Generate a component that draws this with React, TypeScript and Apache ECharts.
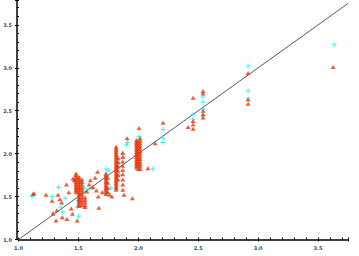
import React, { useEffect, useRef } from "react";
import * as echarts from "echarts";

const X_MIN = 1.0;
const X_MAX = 3.75;
const Y_MIN = 1.0;
const Y_MAX = 3.79;
const TICK_INTERVAL = 0.5;

// identity reference line
const diagonal: [number, number][] = [
  [1.0, 1.0],
  [3.75, 3.75],
];

// red triangles, grouped in vertical clusters plus scattered points
const redCol148 = [1.77, 1.75, 1.73, 1.71, 1.69, 1.67, 1.65, 1.63, 1.61, 1.59, 1.57, 1.55];
const redCol1505 = [1.73, 1.71, 1.69, 1.67, 1.65, 1.63, 1.61, 1.59, 1.57, 1.55, 1.53, 1.51, 1.49, 1.47, 1.45, 1.43, 1.41, 1.39];
const redCol153 = [1.7, 1.67, 1.64, 1.61, 1.58, 1.55, 1.52, 1.49, 1.46, 1.43, 1.4];
const redCol1555 = [1.49, 1.46, 1.43, 1.4, 1.38];
const redCol173 = [1.77, 1.75, 1.73, 1.71, 1.69, 1.67, 1.65, 1.63, 1.61, 1.59, 1.57, 1.55, 1.53];
const redCol1745 = [1.72, 1.66, 1.6, 1.55];
const redCol1815 = [2.08, 2.06, 2.04, 2.02, 2.0, 1.98, 1.96, 1.94, 1.92, 1.9, 1.88, 1.86, 1.84, 1.82, 1.8, 1.78, 1.76, 1.74, 1.72, 1.7, 1.68, 1.66, 1.64, 1.62, 1.6, 1.58];
const redCol183 = [1.95, 1.9, 1.85, 1.8, 1.75, 1.7];
const redCol187 = [2.01, 1.96, 1.91, 1.86, 1.81, 1.76, 1.7, 1.64, 1.58];
const redCol1985 = [2.16, 2.14, 2.12, 2.1, 2.08, 2.06, 2.04, 2.02, 2.0, 1.98, 1.96, 1.94, 1.92, 1.9, 1.88, 1.86, 1.84];
const redCol200 = [2.14, 2.1, 2.06, 2.02, 1.98, 1.94, 1.9, 1.86, 1.82];
const redCol2015 = [2.18, 2.15, 2.12, 2.09, 2.06, 2.03, 2.0, 1.97, 1.94, 1.91, 1.88, 1.85, 1.82];

const redColumns: [number, number[]][] = [
  [1.48, redCol148],
  [1.505, redCol1505],
  [1.53, redCol153],
  [1.555, redCol1555],
  [1.73, redCol173],
  [1.745, redCol1745],
  [1.815, redCol1815],
  [1.83, redCol183],
  [1.87, redCol187],
  [1.985, redCol1985],
  [2.0, redCol200],
  [2.015, redCol2015],
];

const redScatter: [number, number][] = [
  [1.121, 1.53], [1.129, 1.54], [1.23, 1.52], [1.28, 1.45], [1.288, 1.3],
  [1.313, 1.22], [1.32, 1.34], [1.33, 1.52], [1.345, 1.47], [1.36, 1.43],
  [1.365, 1.26], [1.4, 1.64], [1.405, 1.24], [1.42, 1.55], [1.44, 1.36],
  [1.45, 1.3], [1.455, 1.71], [1.465, 1.69], [1.49, 1.22], [1.57, 1.56],
  [1.59, 1.64], [1.6, 1.69], [1.62, 1.61], [1.64, 1.72], [1.65, 1.57],
  [1.66, 1.79], [1.665, 1.5], [1.67, 1.37], [1.7, 1.55], [1.76, 1.52],
  [1.78, 1.5], [1.88, 1.52], [1.906, 2.18], [1.95, 1.48], [2.08, 1.83],
  [2.14, 2.12], [2.006, 2.3], [2.206, 2.36], [2.415, 2.31], [2.457, 2.29],
  [2.457, 2.65], [2.457, 2.38], [2.457, 2.34], [2.54, 2.73], [2.54, 2.7],
  [2.54, 2.5], [2.54, 2.46], [2.54, 2.42], [2.916, 2.94], [2.916, 2.63],
  [2.916, 2.58], [3.626, 3.01],
];

// cyan plus markers
const cyanPoints: [number, number][] = [
  [1.113, 1.5], [1.28, 1.5], [1.29, 1.31], [1.335, 1.61], [1.355, 1.38],
  [1.37, 1.32], [1.39, 1.48], [1.49, 1.38], [1.5, 1.27], [1.52, 1.66],
  [1.5, 1.45], [1.55, 1.6], [1.58, 1.58], [1.62, 1.6], [1.73, 1.82],
  [1.75, 1.8], [1.77, 1.6], [1.82, 1.86], [1.84, 1.9], [1.845, 1.75],
  [1.87, 2.0], [1.88, 1.96], [1.9, 2.1], [1.91, 2.13], [1.99, 2.0],
  [2.0, 1.85], [2.005, 2.2], [2.01, 1.92], [2.12, 1.82], [2.206, 2.28],
  [2.206, 2.18], [2.206, 2.13], [2.457, 2.46], [2.457, 2.4], [2.54, 2.66],
  [2.54, 2.6], [2.54, 2.52], [2.54, 2.44], [2.916, 3.02], [2.916, 2.73],
  [2.916, 2.64], [3.634, 3.27],
];

const PLUS = "path://M2,0H3V2H5V3H3V5H2V3H0V2H2Z";

export default function App() {
  const ref = useRef<HTMLDivElement>(null);
  useEffect(() => {
    if (!ref.current) return;
    const chart = echarts.init(ref.current, undefined, { renderer: "svg" });
    const redPoints: [number, number][] = [];
    redColumns.forEach(([x, ys]) => ys.forEach((y) => redPoints.push([x, y])));
    redScatter.forEach((p) => redPoints.push(p));

    const labelStyle = { fontSize: 5, color: "#3a4a5a", fontWeight: "bold" as const, fontFamily: "DejaVu Sans" };

    chart.setOption({
      animation: false,
      backgroundColor: "#ffffff",
      grid: { left: 18.5, right: 11, top: 0, bottom: 16.5, containLabel: false },
      xAxis: [
        {
          type: "value",
          min: X_MIN,
          max: X_MAX,
          interval: TICK_INTERVAL,
          axisLine: { show: true, lineStyle: { color: "#000", width: 1.5 } },
          axisTick: { show: true, inside: true, length: 2, lineStyle: { color: "#000", width: 1 } },
          minorTick: { show: true, splitNumber: 5, length: 2, lineStyle: { color: "#000", width: 1 } },
          axisLabel: { ...labelStyle, margin: 6, showMaxLabel: false, formatter: (v: number) => v.toFixed(1) },
          splitLine: { show: false },
        },
        {
          type: "value",
          min: X_MIN,
          max: X_MAX,
          interval: TICK_INTERVAL,
          position: "bottom",
          axisLine: { show: false },
          axisTick: { show: true, inside: false, length: 2, lineStyle: { color: "#000", width: 1 } },
          axisLabel: { show: false },
          splitLine: { show: false },
        },
      ],
      yAxis: [
        {
          type: "value",
          min: Y_MIN,
          max: Y_MAX,
          interval: TICK_INTERVAL,
          offset: 1.5,
          axisLine: { show: true, lineStyle: { color: "#000", width: 1.5 } },
          axisTick: { show: true, inside: true, length: 2, lineStyle: { color: "#000", width: 1 } },
          minorTick: { show: true, splitNumber: 5, length: 2, lineStyle: { color: "#000", width: 1 } },
          axisLabel: { ...labelStyle, margin: 5, showMaxLabel: false, formatter: (v: number) => v.toFixed(1) },
          splitLine: { show: false },
        },
        {
          type: "value",
          min: Y_MIN,
          max: Y_MAX,
          interval: TICK_INTERVAL,
          position: "left",
          offset: 1.5,
          axisLine: { show: false },
          axisTick: { show: true, inside: false, length: 2, lineStyle: { color: "#000", width: 1 } },
          axisLabel: { show: false },
          splitLine: { show: false },
        },
      ],
      series: [
        {
          type: "line",
          data: diagonal,
          symbol: "none",
          lineStyle: { color: "#4f5b6b", width: 1 },
          silent: true,
          z: 1,
        },
        {
          type: "scatter",
          data: cyanPoints,
          symbol: PLUS,
          symbolSize: 5,
          itemStyle: { color: "#1ee8f2" },
          z: 2,
        },
        {
          type: "scatter",
          data: redPoints,
          symbol: "triangle",
          symbolSize: [5, 4],
          itemStyle: { color: "#e8360c" },
          z: 3,
        },
      ],
    });
    return () => chart.dispose();
  }, []);
  return (
    <div
      ref={ref}
      style={{ position: "fixed", left: 0, top: 0, width: 359, height: 256, background: "#fff" }}
    />
  );
}
